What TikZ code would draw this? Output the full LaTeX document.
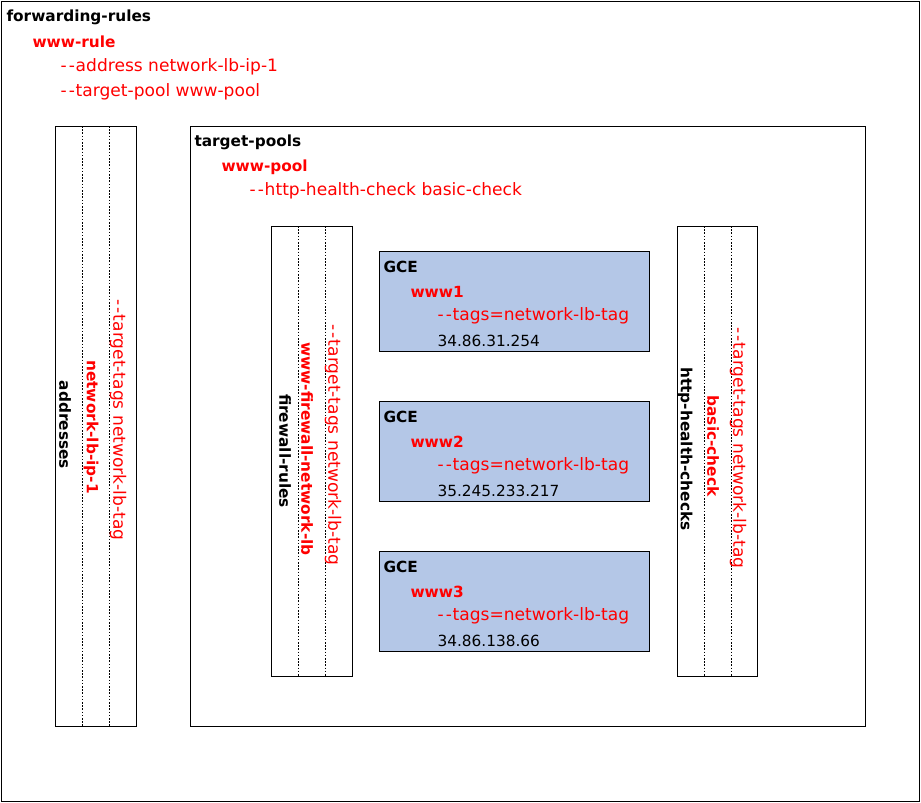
\documentclass[tikz,border=0pt]{standalone}
\usepackage{fontspec}
\setmainfont{DejaVu Sans}
\usetikzlibrary{calc}
\newcommand{\dd}{-\kern1.6pt-\kern0.6pt}

\begin{document}
\begin{tikzpicture}[x=0.75pt,y=-0.75pt,line width=0.75pt,
  every node/.style={inner sep=0pt,anchor=west,font=\fontsize{11.5}{14}\selectfont},
  hd/.style={font=\fontsize{11.5}{14}\selectfont\bfseries},
  nm/.style={hd,text=red},
  opt/.style={text=red,font=\fontsize{12.8}{14}\selectfont},
  vt/.style={rotate=-90,anchor=center},
  sep/.style={dash pattern=on 1.2pt off 1.2pt}]
  \useasboundingbox (0,0) rectangle (921,803);
  % outer frame
  \draw (1,1) rectangle (919,801);
  \path (6,17) node[hd] (fwd) {forwarding-rules}
  (32,42) node[nm] (rule) {www-rule}
  (60,67) node[opt] (ruleaddr) {\dd address network-lb-ip-1}
  (60,92) node[opt] (rulepool) {\dd target-pool www-pool};
  % addresses column
  \draw (55,126) rectangle (136,726);
  \draw[sep] (82,126) -- (82,726) (109,126) -- (109,726);
  \path (65,425) node[hd,vt] (addr) {addresses}
  (91,427) node[nm,vt] (addrip) {network-lb-ip-1}
  (118,420) node[opt,vt] (addrtag) {\dd target-tags network-lb-tag};
  % target pools
  \draw (190,126) rectangle (865,726);
  \path (194,142) node[hd] (tp) {target-pools}
  (221,167) node[nm] (pool) {www-pool}
  (249,191) node[opt] (poolhc) {\dd http-health-check basic-check};
  % firewall-rules column
  \draw (271,226) rectangle (352,676);
  \draw[sep] (298,226) -- (298,676) (325,226) -- (325,676);
  \path (285,451) node[hd,vt] (fw) {firewall-rules}
  (307,449) node[nm,vt] (fwrule) {www-firewall-network-lb}
  (333,445) node[opt,vt] (fwtag) {\dd target-tags network-lb-tag};
  % GCE instances
  \draw[fill={rgb,255:red,180;green,199;blue,231}] (379,251) rectangle (649,351)
  (379,401) rectangle (649,501) (379,551) rectangle (649,651);
  \path (383,267) node[hd] (gce1) {GCE}
  (410,292) node[nm] (www1) {www1}
  (437,316) node[opt] (tag1) {\dd tags=network-lb-tag}
  (437,341) node (ip1) {34.86.31.254};
  \path (383,417) node[hd] (gce2) {GCE}
  (410,442) node[nm] (www2) {www2}
  (437,466) node[opt] (tag2) {\dd tags=network-lb-tag}
  (437,491) node (ip2) {35.245.233.217};
  \path (383,567) node[hd] (gce3) {GCE}
  (410,592) node[nm] (www3) {www3}
  (437,616) node[opt] (tag3) {\dd tags=network-lb-tag}
  (437,641) node (ip3) {34.86.138.66};
  % health checks column
  \draw (677,226) rectangle (757,676);
  \draw[sep] (704,226) -- (704,676) (731,226) -- (731,676);
  \path (685,449) node[hd,vt] (hc) {http-health-checks}
  (713,446) node[nm,vt] (hcbasic) {basic-check}
  (738,448) node[opt,vt] (hctag) {\dd target-tags network-lb-tag};
\end{tikzpicture}
\end{document}
